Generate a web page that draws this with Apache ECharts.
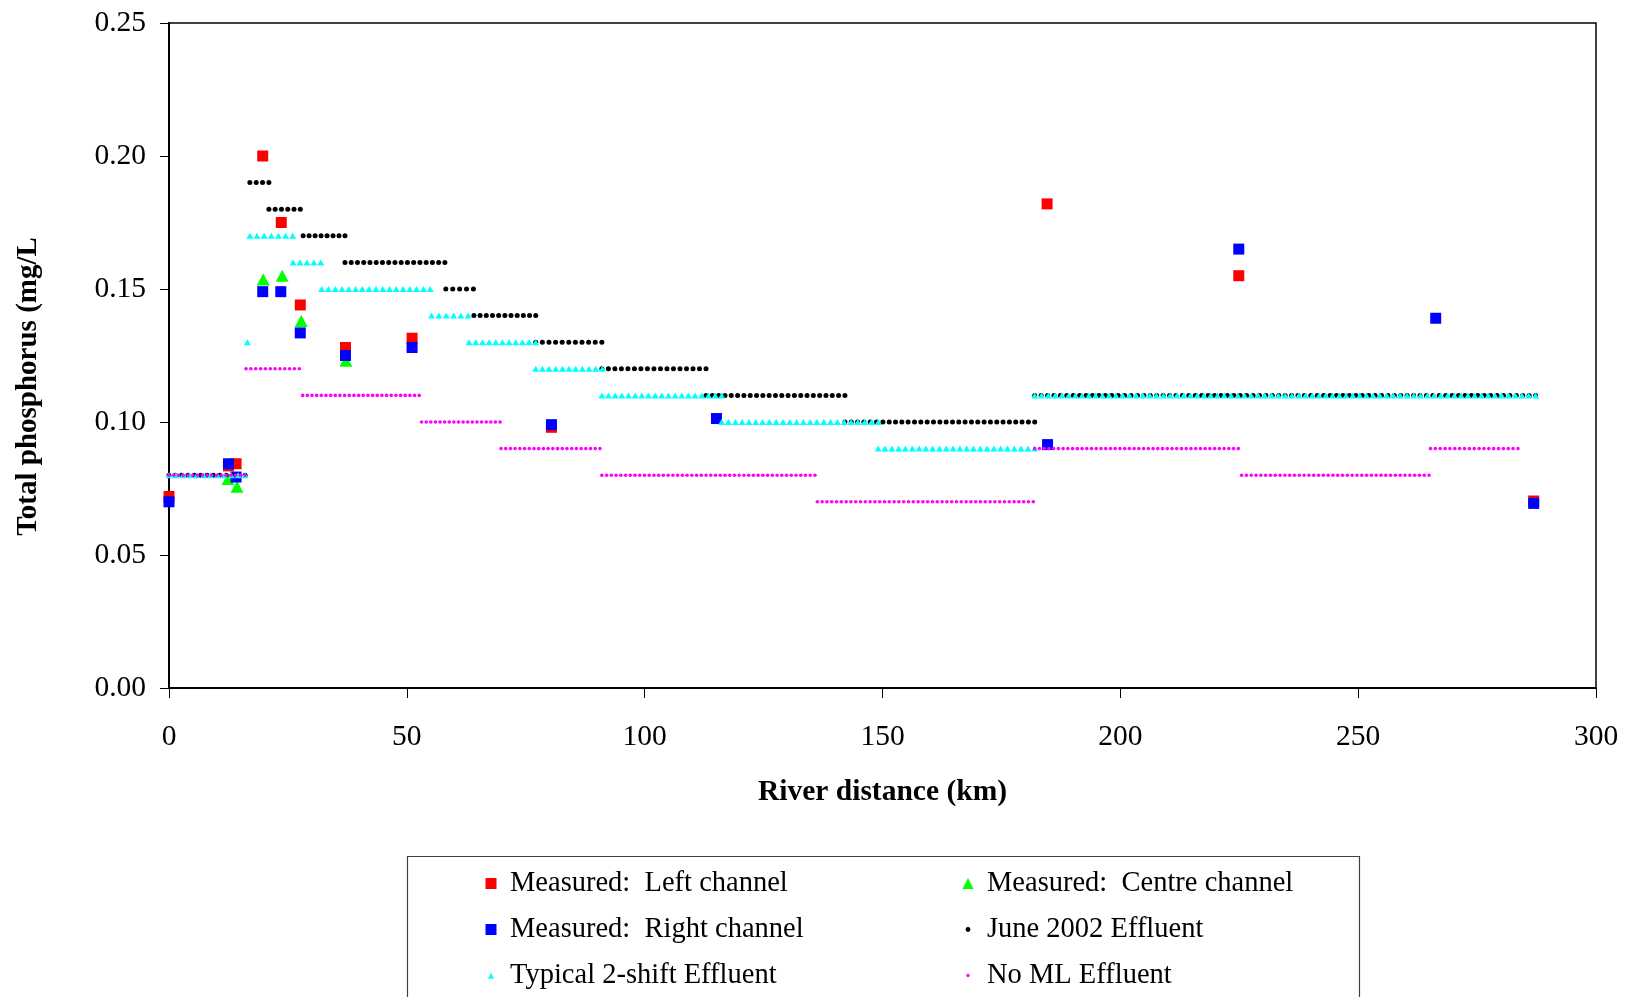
<!DOCTYPE html>
<html>
<head>
<meta charset="utf-8">
<script src="https://cdn.jsdelivr.net/npm/echarts@6/dist/echarts.min.js"></script>
<style>
  html, body { margin: 0; padding: 0; background: #ffffff; }
  #chart { width: 1625px; height: 997px; }
</style>
</head>
<body>
<div id="chart"></div>
<script>
// Measured total phosphorus, [river distance km, mg/L]
const measuredLeft = [[0, 0.072], [12.5, 0.0835], [14.1, 0.0843], [19.7, 0.200], [23.6, 0.175], [27.6, 0.144],
  [37.1, 0.128], [51.1, 0.1315], [80.4, 0.098], [184.6, 0.182], [224.9, 0.155], [286.9, 0.0703]];
const measuredCentre = [[12.4, 0.0786], [14.3, 0.0757], [19.8, 0.1536], [23.8, 0.155], [27.8, 0.138], [37.2, 0.123]];
const measuredRight = [[0, 0.070], [12.5, 0.0843], [14.1, 0.0793], [19.7, 0.149], [23.5, 0.149], [27.6, 0.1335],
  [37.1, 0.125], [51.1, 0.128], [80.4, 0.099], [115.1, 0.1013], [184.7, 0.0915], [224.9, 0.165], [266.3, 0.139],
  [286.9, 0.0694]];

// Modelled profiles as constant reaches, [from km, to km, mg/L]
const june2002 = [[0, 16, 0.08], [17.0, 21.0, 0.19], [21.0, 27.6, 0.18], [28.2, 37.0, 0.17], [37.0, 58.0, 0.16],
  [58.2, 64.0, 0.15], [64.1, 77.1, 0.14], [77.1, 91.0, 0.13], [91.0, 112.9, 0.12], [112.9, 142.1, 0.11],
  [142.1, 182.0, 0.10], [182.0, 287.3, 0.11]];
const typical2Shift = [[0, 16, 0.08], [16.5, 16.5, 0.13], [17.0, 26.0, 0.17], [26.1, 31.9, 0.16], [32.1, 54.9, 0.15],
  [55.2, 62.9, 0.14], [63.1, 77.1, 0.13], [77.1, 91.1, 0.12], [91.0, 116.2, 0.11], [116.2, 149.1, 0.10],
  [149.1, 182.0, 0.09], [182.0, 287.3, 0.11]];
const noML = [[0, 16, 0.08], [16.2, 27.4, 0.12], [28.1, 52.6, 0.11], [53.1, 69.6, 0.10], [69.8, 90.6, 0.09],
  [91.0, 135.8, 0.08], [136.3, 181.7, 0.07], [182.0, 224.8, 0.09], [225.5, 264.9, 0.08], [265.2, 283.6, 0.09]];

// Axis ticks
const xTicks = [0, 50, 100, 150, 200, 250, 300];
const yTicks = [0, 0.05, 0.10, 0.15, 0.20, 0.25];

const SERIF = "'Liberation Serif', 'Times New Roman', 'DejaVu Serif', serif";
const COLORS = { left: '#ff0000', centre: '#00ff00', right: '#0000ff', june: '#000000', typical: '#00ffff', noml: '#ff00ff' };

// One small marker drawn at a pixel position
function marker(shape, cx, cy, w, h, color) {
  if (shape === 'triangle') {
    return { type: 'polygon', silent: true,
      shape: { points: [[cx, cy - h / 2], [cx + w / 2, cy + h / 2], [cx - w / 2, cy + h / 2]] },
      style: { fill: color } };
  }
  return { type: 'circle', silent: true, shape: { cx: cx, cy: cy, r: w / 2 }, style: { fill: color } };
}

// A reach series: each reach is drawn as a row of markers along its constant value
function reachSeries(name, data, color, shape, w, h, spacing, z) {
  return {
    name: name,
    type: 'custom',
    data: data,
    z: z,
    itemStyle: { color: color },
    encode: { x: [0, 1], y: 2 },
    renderItem: function (params, api) {
      const v = api.value(2);
      const a = api.coord([api.value(0), v]);
      const b = api.coord([api.value(1), v]);
      const len = b[0] - a[0];
      const n = Math.max(1, Math.round(len / spacing) + 1);
      const step = n > 1 ? len / (n - 1) : 0;
      const children = [];
      for (let i = 0; i < n; i++) {
        children.push(marker(shape, a[0] + i * step, a[1], w, h, color));
      }
      return { type: 'group', children: children };
    }
  };
}

function scatterSeries(name, data, color, symbol, size, z) {
  return {
    name: name,
    type: 'scatter',
    data: data,
    symbol: symbol,
    symbolSize: size,
    z: z,
    itemStyle: { color: color, opacity: 1 },
    emphasis: { disabled: true }
  };
}

// Legend icons: shape centred in a 28x26 box
const BOX = 'path://M0,0M28,26';
const ICON_SQUARE = BOX + 'M8.5,7.5h11v11h-11z';
const ICON_TRI = BOX + 'M14,7.5l5.5,11h-11z';
const ICON_DOT = BOX + 'M11.6,13a2.4,2.4 0 1,0 4.8,0a2.4,2.4 0 1,0 -4.8,0z';
const ICON_SMALL_TRI = BOX + 'M14,10.2l3,6h-6z';
const ICON_SMALL_DOT = BOX + 'M12.3,13a1.7,1.7 0 1,0 3.4,0a1.7,1.7 0 1,0 -3.4,0z';

const NAMES = {
  left: 'Measured:  Left channel',
  centre: 'Measured:  Centre channel',
  right: 'Measured:  Right channel',
  june: 'June 2002 Effluent',
  typical: 'Typical 2-shift Effluent',
  noml: 'No ML Effluent'
};

const legendCommon = {
  orient: 'vertical',
  top: 869,
  padding: 0,
  itemWidth: 28,
  itemHeight: 26,
  itemGap: 17,
  selectedMode: false,
  itemStyle: { borderWidth: 0 },
  textStyle: { fontFamily: SERIF, fontSize: 28.5, color: '#000000', lineHeight: 26 }
};

const chart = echarts.init(document.getElementById('chart'), null, { renderer: 'canvas' });

chart.setOption({
  animation: false,
  backgroundColor: '#ffffff',
  grid: {
    left: 169, right: 29, top: 23, bottom: 309,
    show: true, borderColor: '#000000', borderWidth: 1.5,
    containLabel: false, outerBoundsMode: 'none'
  },
  xAxis: {
    type: 'value',
    min: xTicks[0], max: xTicks[xTicks.length - 1], interval: xTicks[1] - xTicks[0],
    name: 'River distance (km)',
    nameLocation: 'middle',
    nameGap: 89,
    nameTextStyle: { fontFamily: SERIF, fontSize: 29.5, fontWeight: 'bold', color: '#000000' },
    axisLine: { show: true, onZero: false, lineStyle: { color: '#000000', width: 2 } },
    axisTick: { show: true, inside: false, length: 10, lineStyle: { color: '#000000', width: 1 } },
    axisLabel: { margin: 34, fontFamily: SERIF, fontSize: 29.5, color: '#000000' },
    splitLine: { show: false }
  },
  yAxis: {
    type: 'value',
    min: yTicks[0], max: yTicks[yTicks.length - 1], interval: yTicks[1] - yTicks[0],
    name: 'Total phosphorus (mg/L',
    nameLocation: 'middle',
    nameRotate: 90,
    nameGap: 126,
    nameTextStyle: { fontFamily: SERIF, fontSize: 29, fontWeight: 'bold', color: '#000000', padding: [0, 62, 0, 0] },
    axisLine: { show: true, onZero: false, lineStyle: { color: '#000000', width: 2 } },
    axisTick: { show: true, inside: false, length: 9, lineStyle: { color: '#000000', width: 1 } },
    axisLabel: { margin: 23, fontFamily: SERIF, fontSize: 29.5, color: '#000000',
      formatter: function (v) { return v.toFixed(2); } },
    splitLine: { show: false }
  },
  legend: [
    Object.assign({}, legendCommon, {
      left: 477,
      data: [
        { name: NAMES.left, icon: ICON_SQUARE, itemStyle: { color: COLORS.left } },
        { name: NAMES.right, icon: ICON_SQUARE, itemStyle: { color: COLORS.right } },
        { name: NAMES.typical, icon: ICON_SMALL_TRI, itemStyle: { color: COLORS.typical } }
      ]
    }),
    Object.assign({}, legendCommon, {
      left: 954,
      data: [
        { name: NAMES.centre, icon: ICON_TRI, itemStyle: { color: COLORS.centre } },
        { name: NAMES.june, icon: ICON_DOT, itemStyle: { color: COLORS.june } },
        { name: NAMES.noml, icon: ICON_SMALL_DOT, itemStyle: { color: COLORS.noml } }
      ]
    })
  ],
  graphic: [{
    type: 'rect',
    silent: true,
    z: -1,
    shape: { x: 407.5, y: 856.5, width: 952, height: 200 },
    style: { fill: 'none', stroke: '#404040', lineWidth: 1.2 }
  }],
  series: [
    scatterSeries(NAMES.left, measuredLeft, COLORS.left, 'rect', 11, 2),
    scatterSeries(NAMES.centre, measuredCentre, COLORS.centre, 'triangle', [13, 12], 3),
    scatterSeries(NAMES.right, measuredRight, COLORS.right, 'rect', 11, 4),
    reachSeries(NAMES.june, june2002, COLORS.june, 'circle', 5, 5, 6.4, 5),
    reachSeries(NAMES.typical, typical2Shift, COLORS.typical, 'triangle', 7, 6, 6.8, 6),
    reachSeries(NAMES.noml, noML, COLORS.noml, 'circle', 3.6, 3.6, 4.75, 7)
  ]
});
</script>
</body>
</html>
